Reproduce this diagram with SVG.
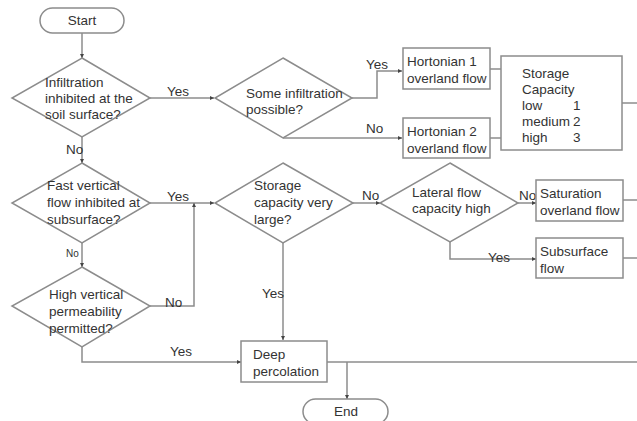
<svg xmlns="http://www.w3.org/2000/svg" width="637" height="421" viewBox="0 0 637 421">
<defs>
<marker id="ah" viewBox="0 0 6 6" refX="6" refY="3" markerWidth="4" markerHeight="4" orient="auto" markerUnits="userSpaceOnUse">
<path d="M0,0 L6,3 L0,6 z" fill="#444"/>
</marker>
</defs>
<style>
.s{fill:#fff;stroke:#8c8c8c;stroke-width:1.5}
.c{fill:none;stroke:#8c8c8c;stroke-width:1.5}
.a{marker-end:url(#ah)}
text{font-family:"Liberation Sans",Arial,sans-serif;font-size:13.5px;fill:#333}
.m{text-anchor:middle}
.sm{font-size:10px}
</style>
<rect width="637" height="421" fill="#fff"/>
<g id="connectors">
<path class="c a" d="M82,33 V58"/>
<path class="c a" d="M150,98 H214"/>
<path class="c a" d="M352,98 H377 V71 H402"/>
<path class="c a" d="M283,138 H402"/>
<path class="c" d="M490,69 H501"/>
<path class="c" d="M490,138 H501"/>
<path class="c" d="M622,103 H637"/>
<path class="c a" d="M82,137 V163"/>
<path class="c a" d="M150,203 H214"/>
<path class="c a" d="M82,243 V267"/>
<path class="c a" d="M150,306 H194 V203"/>
<path class="c a" d="M353,203 H380"/>
<path class="c a" d="M518,203 H536"/>
<path class="c" d="M623,200 H637"/>
<path class="c a" d="M450,242 V259 H536"/>
<path class="c" d="M623,258 H637"/>
<path class="c a" d="M283,243 V340"/>
<path class="c a" d="M82,347 V362 H241"/>
<path class="c" d="M327,362 H637"/>
<path class="c a" d="M347,362 V399"/>
<text x="167" y="96">Yes</text>
<text x="366" y="69">Yes</text>
<text x="366" y="133">No</text>
<text x="66" y="154">No</text>
<text x="167" y="201">Yes</text>
<text class="sm" x="66" y="257">No</text>
<text x="165" y="307">No</text>
<text x="362" y="200">No</text>
<text x="519" y="200">No</text>
<text x="488" y="262">Yes</text>
<text x="262" y="298">Yes</text>
<text x="170" y="356">Yes</text>
</g>
<g id="start">
<rect class="s" x="40" y="8" width="84" height="25" rx="12.5"/>
<text class="m" x="82" y="25">Start</text>
</g>
<g id="d1">
<polygon class="s" points="82,58 150,98 82,137 12,98"/>
<text x="45" y="87">Infiltration</text>
<text x="45" y="103">inhibited at the</text>
<text x="45" y="119">soil surface?</text>
</g>
<g id="d2">
<polygon class="s" points="283,58 352,98 283,138 215,98"/>
<text x="246" y="98">Some infiltration</text>
<text x="246" y="114">possible?</text>
</g>
<g id="h1">
<rect class="s" x="403" y="48" width="87" height="41"/>
<text x="407" y="66">Hortonian 1</text>
<text x="407" y="83">overland flow</text>
</g>
<g id="h2">
<rect class="s" x="403" y="118" width="87" height="40"/>
<text x="407" y="136">Hortonian 2</text>
<text x="407" y="153">overland flow</text>
</g>
<g id="storage">
<rect class="s" x="501" y="56" width="121" height="94"/>
<text x="522" y="78">Storage</text>
<text x="522" y="94">Capacity</text>
<text x="522" y="110">low</text><text x="573" y="110">1</text>
<text x="522" y="126">medium</text><text x="573" y="126">2</text>
<text x="522" y="142">high</text><text x="573" y="142">3</text>
</g>
<g id="d3">
<polygon class="s" points="82,163 150,203 82,243 12,203"/>
<text x="47" y="190">Fast vertical</text>
<text x="47" y="207">flow inhibited at</text>
<text x="47" y="224">subsurface?</text>
</g>
<g id="d4">
<polygon class="s" points="82,267 150,306 82,347 12,306"/>
<text x="49" y="299">High vertical</text>
<text x="49" y="316">permeability</text>
<text x="49" y="333">permitted?</text>
</g>
<g id="d5">
<polygon class="s" points="283,163 353,203 283,243 215,203"/>
<text x="254" y="190">Storage</text>
<text x="254" y="207">capacity very</text>
<text x="254" y="224">large?</text>
</g>
<g id="d6">
<polygon class="s" points="450,163 518,203 450,242 380,203"/>
<text x="412" y="197">Lateral flow</text>
<text x="412" y="213">capacity high</text>
</g>
<g id="sat">
<rect class="s" x="536" y="180" width="87" height="41"/>
<text x="540" y="198">Saturation</text>
<text x="540" y="215">overland flow</text>
</g>
<g id="sub">
<rect class="s" x="536" y="238" width="87" height="40"/>
<text x="540" y="256">Subsurface</text>
<text x="540" y="273">flow</text>
</g>
<g id="deep">
<rect class="s" x="241" y="341" width="86" height="41"/>
<text x="253" y="359">Deep</text>
<text x="253" y="376">percolation</text>
</g>
<g id="end">
<rect class="s" x="303" y="399" width="85" height="25" rx="12.5"/>
<text class="m" x="346" y="416">End</text>
</g>
</svg>
